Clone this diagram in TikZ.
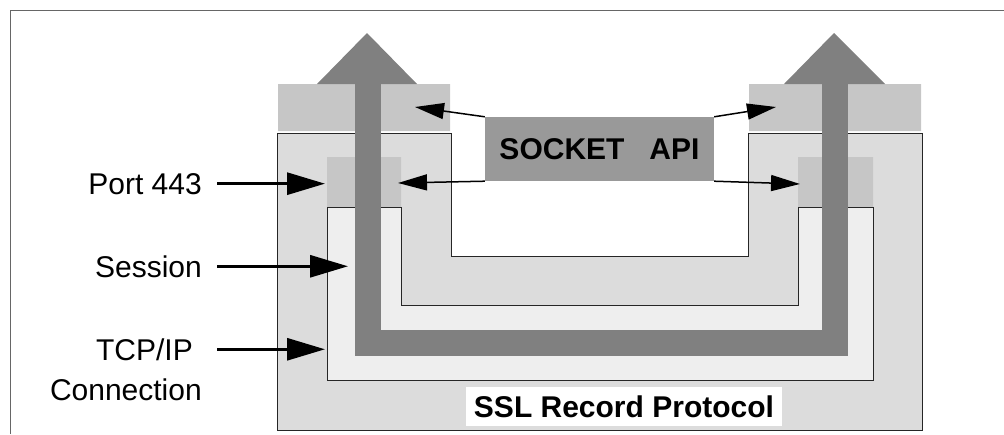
\documentclass[tikz,border=0pt]{standalone}
\usepackage{fontspec}
\setmainfont{Liberation Sans}
\usetikzlibrary{arrows.meta}
\definecolor{shadeA}{HTML}{DCDCDC}
\definecolor{shadeB}{HTML}{C6C6C6}
\definecolor{shadeC}{HTML}{EEEEEE}
\definecolor{pipe}{HTML}{808080}
\definecolor{apibox}{HTML}{999999}
\begin{document}
\begin{tikzpicture}[x=1pt,y=-1pt,
    layer/.style={draw=black!85,line width=1pt},
    bigarrow/.style={line width=3pt,-{Triangle[length=38pt,width=22pt]}},
    thinarrow/.style={line width=1.5pt,-{Triangle[length=29pt,width=16pt]}},
    lbl/.style={inner sep=0pt,font=\fontsize{30}{36}\selectfont}]

      \useasboundingbox (0,0) rectangle (1004,434);
      \draw[black!60,line width=1pt] (10,434) -- (10,10) -- (1004,10);

      \path[layer,fill=shadeA] (277,133) -- (277,430) -- (922,430) -- (922,133)
        -- (748,133) -- (748,256) -- (451,256) -- (451,133) -- cycle;
      \fill[shadeB] (278,84) rectangle (450,131) (749,84) rectangle (921,131);
      \fill[shadeB] (327,157) rectangle (401,207) (798,157) rectangle (873,207);
      \path[layer,fill=shadeC] (327,207) -- (327,380) -- (873,380) -- (873,207)
        -- (798,207) -- (798,305) -- (401,305) -- (401,207) -- cycle;

      \draw[pipe,line width=26pt,line join=miter] (367.5,83) -- (367.5,342.5) -- (834.5,342.5) -- (834.5,83);
      \fill[pipe] (317,84) -- (367,33) -- (417,84) -- cycle (784,84) -- (834,33) -- (885,84) -- cycle;

      \begin{scope}[every node/.style={lbl,anchor=base east}]
        \node (port) at (202,194) {Port 443};
        \node (sess) at (202,277) {Session};
        \node (tcp)  at (193,360) {TCP/IP};
        \node (conn) at (202,400) {Connection};
      \end{scope}

      \begin{scope}[every node/.style={lbl,font=\fontsize{30}{36}\selectfont\bfseries}]
        \node[fill=apibox,minimum width=229pt,minimum height=64pt] (api) at (599.5,149) {SOCKET\ \ \ API};
        \node[fill=white,minimum width=316pt,minimum height=39pt] (ssl) at (624,406.5) {SSL Record Protocol};
      \end{scope}

      \coordinate (portT) at (325,185);
      \coordinate (sessT) at (348,268);
      \coordinate (tcpT)  at (325,350);
      \coordinate (topL)  at (415,107);
      \coordinate (portL) at (398,183);
      \coordinate (topR)  at (776,107);
      \coordinate (portR) at (800,184);

      \draw[bigarrow,shorten <=15pt] (port.east) -- (port.east -| portT);
      \draw[bigarrow,shorten <=15pt] (sess.east) -- (sess.east -| sessT);
      \draw[bigarrow,shorten <=24pt] (tcp.east)  -- (tcp.east -| tcpT);

      \draw[thinarrow] (api.north west) -- (topL);
      \draw[thinarrow] (api.south west) -- (portL);
      \draw[thinarrow] (api.north east) -- (topR);
      \draw[thinarrow] (api.south east) -- (portR);

    \end{tikzpicture}
\end{document}
